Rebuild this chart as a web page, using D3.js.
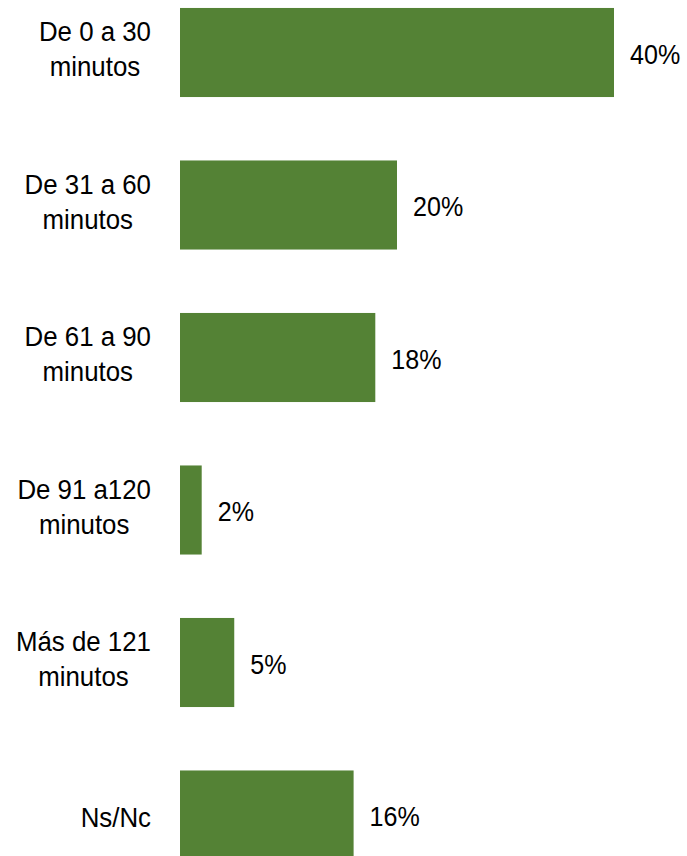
<!DOCTYPE html>
<html>
<head>
<meta charset="utf-8">
<title>Tiempo</title>
<script src="https://d3js.org/d3.v7.min.js"></script>
<style>
  html, body { margin: 0; padding: 0; background: #fff; }
  svg { display: block; }
  text { font-family: "Liberation Sans", Arial, sans-serif; fill: #000; }
</style>
</head>
<body>
<div id="chart"></div>
<script>
// data
var categories = ["De 0 a 30|minutos", "De 31 a 60|minutos", "De 61 a 90|minutos",
                  "De 91 a120|minutos", "Más de 121|minutos", "Ns/Nc"]
var values = [40, 20, 18, 2, 5, 16]

var width = 687, height = 856

var svg = d3.select("#chart").append("svg")
  .attr("width", width)
  .attr("height", height)

var x = d3.scaleLinear().domain([0, 40]).range([180, 614])

var y = d3.scaleBand()
  .domain(categories)
  .range([-23.75, 891.25])
  .paddingInner(0.416)
  .paddingOuter(0.208)

// bars
svg.selectAll("rect.bar")
  .data(values)
  .enter().append("rect")
  .attr("class", "bar")
  .attr("x", x(0))
  .attr("y", function(d, i) { return y(categories[i]) })
  .attr("width", function(d) { return x(d) - x(0) })
  .attr("height", y.bandwidth())
  .attr("fill", "#548235")

// value labels (text is a bit condensed in the original)
svg.selectAll("text.val")
  .data(values)
  .enter().append("text")
  .attr("class", "val")
  .attr("font-size", 28.5)
  .attr("transform", function(d, i) {
    var cy = y(categories[i]) + y.bandwidth() / 2
    return "translate(" + (x(d) + 16) + "," + (cy + 11) + ") scale(0.88,1)"
  })
  .text(function(d) { return d + "%" })

// category labels, lines centred on each other, block right aligned
var labelRight = 151, sq = 0.94
categories.forEach(function(c) {
  var lines = c.split("|")
  var cy = y(c) + y.bandwidth() / 2
  var g = svg.append("g")
  var texts = lines.map(function(l) {
    return g.append("text").attr("font-size", 27.5).attr("text-anchor", "middle").text(l)
  })
  var maxW = d3.max(texts, function(t) { return t.node().getComputedTextLength() }) * sq
  var mid = labelRight - maxW / 2
  texts.forEach(function(t, k) {
    var base = lines.length == 1 ? cy + 11.5 : cy - 11.5 + k * 35
    t.attr("transform", "translate(" + mid + "," + base + ") scale(" + sq + ",1)")
  })
})
</script>
</body>
</html>
